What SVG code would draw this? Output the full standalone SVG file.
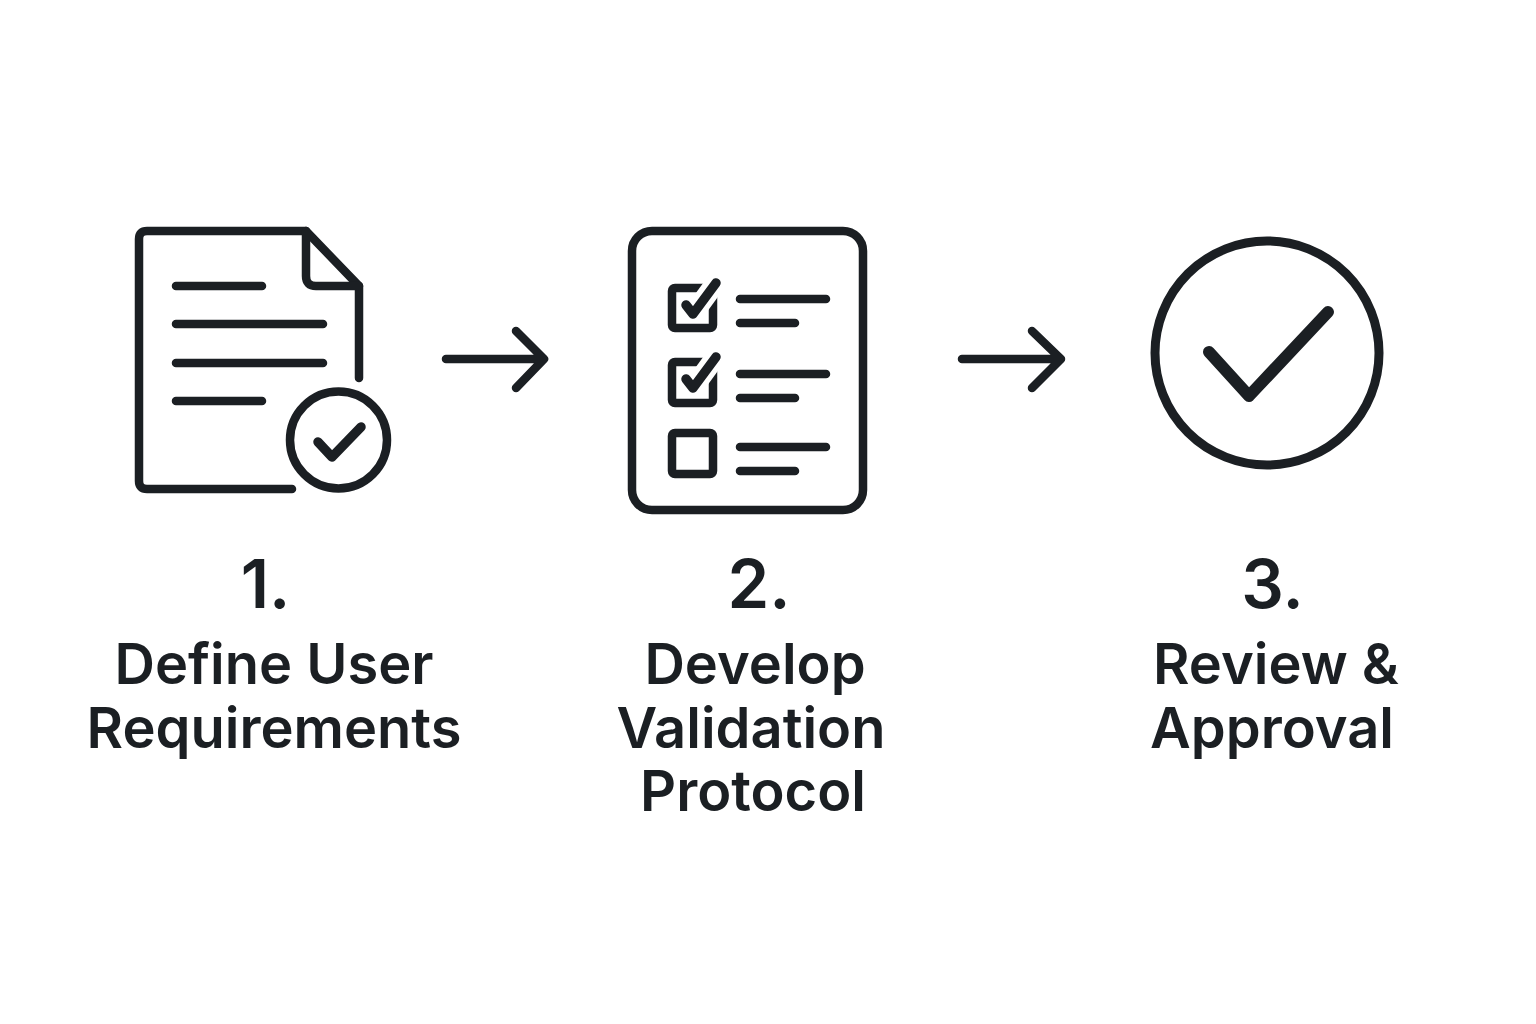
<svg xmlns="http://www.w3.org/2000/svg" width="1536" height="1024" viewBox="0 0 1536 1024">
<style>
.s{fill:none;stroke:#1b1f23;stroke-width:8.5;stroke-linecap:round;stroke-linejoin:round}
.c{stroke-width:9.5}
.h{fill:none;stroke:#fff;stroke-width:20;stroke-linecap:butt;stroke-linejoin:miter}
.t{font-family:Inter,"Liberation Sans",sans-serif;font-weight:600;fill:#1b1f23;text-anchor:middle;font-size:56px}
.n{font-size:67px}
</style>
<rect width="1536" height="1024" fill="#fff"/>
<g id="node1">
<path class="s" d="M292 489H147Q139 489 139 481V239Q139 231 147 231H306L359 286V378"/>
<path class="s" d="M306 231V276Q306 286 316 286H359"/>
<path class="s" d="M176 286H262M176 324H323M176 363H323M176 401H262"/>
<circle class="s" cx="338.500" cy="440" r="48.500"/>
<path class="s c" d="M318 442L332 457L361 427"/>
<text class="t n" x="265.500" y="608">1.</text>
<text class="t" x="274" y="684">Define User</text>
<text class="t" x="274" y="748">Requirements</text>
</g>
<g id="node2">
<rect class="s" x="632" y="231" width="231" height="279" rx="20"/>
<rect class="s" x="672" y="288" width="41" height="40" rx="3"/>
<path class="h" d="M693 314L720 277"/>
<path class="s c" d="M686 305L693 314L716 283"/>
<rect class="s" x="672" y="362" width="41" height="41" rx="3"/>
<path class="h" d="M693 388L720 351"/>
<path class="s c" d="M686 379L693 388L716 357"/>
<rect class="s" x="672" y="433" width="41" height="41" rx="3"/>
<path class="s" d="M740 299H826M740 323H795M740 374H826M740 398H795M740 447H826M740 471H795"/>
<text class="t n" x="759" y="608">2.</text>
<text class="t" x="755" y="684">Develop</text>
<text class="t" x="751" y="748">Validation</text>
<text class="t" x="753" y="811">Protocol</text>
</g>
<g id="node3">
<circle class="s" style="stroke-width:9" cx="1267" cy="353" r="112"/>
<path class="s" style="stroke-width:12" d="M1209 352L1249 396L1328 312"/>
<text class="t n" x="1272.500" y="608">3.</text>
<text class="t" x="1276" y="684">Review &amp;</text>
<text class="t" x="1272" y="748">Approval</text>
</g>
<g id="connectors">
<path class="s" d="M446 359H544M516 331L544 359L516 388"/>
<path class="s" d="M962 359H1061M1032 331L1061 359L1032 388"/>
</g>
</svg>
